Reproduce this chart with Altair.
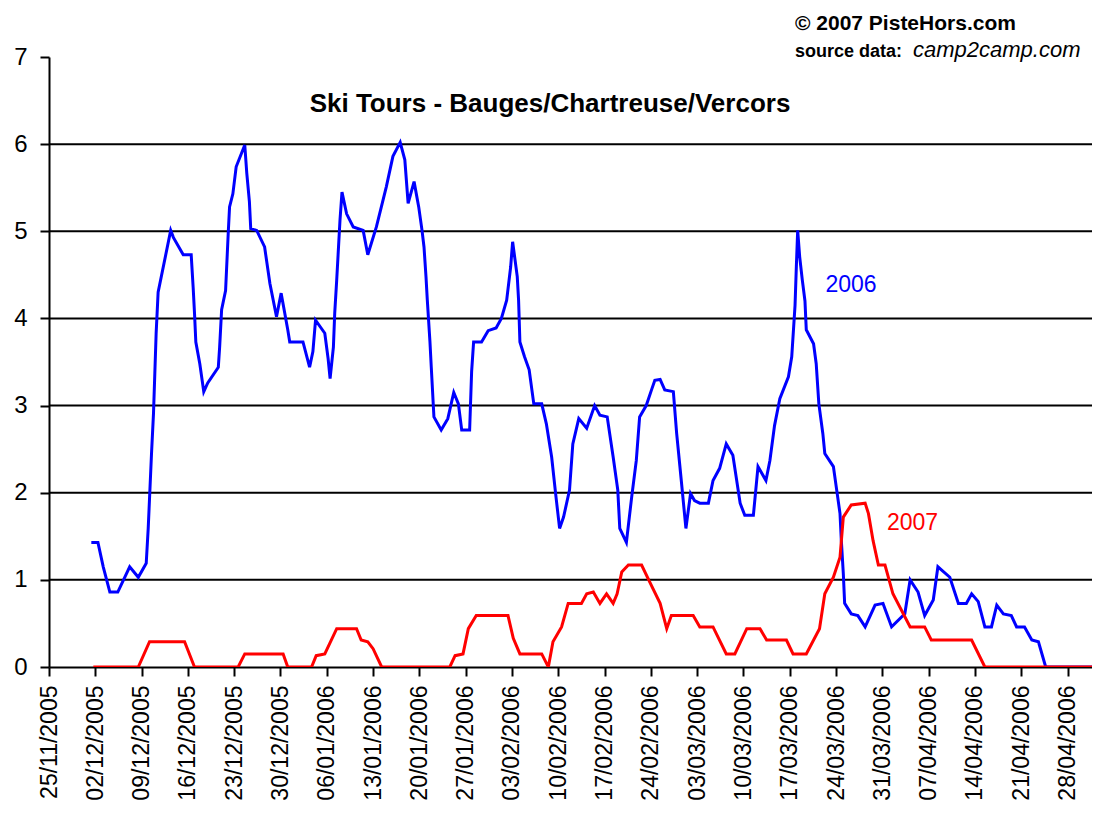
import json
import altair as alt
import pandas as pd

FONT = "Liberation Sans"

# x positions are days since 25/11/2005
tick_labels = ["25/11/2005", "02/12/2005", "09/12/2005", "16/12/2005", "23/12/2005",
               "30/12/2005", "06/01/2006", "13/01/2006", "20/01/2006", "27/01/2006",
               "03/02/2006", "10/02/2006", "17/02/2006", "24/02/2006", "03/03/2006",
               "10/03/2006", "17/03/2006", "24/03/2006", "31/03/2006", "07/04/2006",
               "14/04/2006", "21/04/2006", "28/04/2006"]
tick_days = [0, 7, 14, 21, 28, 35, 42, 49, 56, 63, 70, 77, 84, 91, 98, 105, 112,
             119, 126, 133, 140, 147, 154]
y_ticks = [0, 1, 2, 3, 4, 5, 6, 7]
grid_values = [1, 2, 3, 4, 5, 6]

blue_days = [6.4, 7.4, 8.2, 9.2, 10.4, 12.2, 13.5, 14.7, 15.0, 15.5, 15.8, 16.0, 16.2, 16.5,
             18.4, 18.8, 20.3, 21.5, 21.8, 22.0, 22.2, 22.8, 23.4, 24.0, 25.6, 25.8, 26.1,
             26.7, 27.1, 27.3, 27.8, 28.3, 29.6, 29.9, 30.3, 30.5, 31.4, 32.6, 33.4, 34.4,
             35.1, 36.1, 36.4, 38.4, 39.4, 39.9, 40.3, 41.7, 42.2, 42.5, 43.0, 43.2, 43.5,
             44.0, 44.3, 45.0, 46.0, 47.5, 48.2, 49.5, 51.0, 52.0, 53.1, 53.8, 54.3, 55.2,
             55.9, 56.4, 56.7, 57.0, 57.2, 57.6, 57.8, 58.2, 59.3, 60.3, 61.2, 61.9, 62.4,
             63.6, 63.9, 64.2, 65.4, 66.4, 67.6, 68.4, 69.2, 69.8, 70.1, 70.8, 71.0, 71.2,
             71.9, 72.6, 73.3, 74.5, 75.2, 76.0, 76.6, 77.2, 77.8, 78.7, 79.2, 80.1, 81.3,
             82.5, 83.3, 84.4, 85.3, 86.0, 86.3, 87.3, 88.1, 88.8, 89.3, 90.3, 91.1, 91.6,
             92.4, 93.1, 94.4, 94.9, 95.6, 96.3, 97.0, 97.6, 98.4, 99.7, 100.4, 101.4, 102.4,
             103.4, 104.5, 105.2, 106.5, 107.2, 108.4, 109.0, 109.7, 110.5, 111.8, 112.3,
             112.8, 113.0, 113.2, 113.5, 113.9, 114.3, 114.5, 115.6, 116.0, 116.4, 117.0,
             117.3, 118.6, 119.1, 119.6, 119.8, 120.1, 120.3, 121.3, 122.3, 123.4, 124.9,
             126.1, 127.4, 129.4, 130.2, 131.4, 132.4, 133.7, 134.4, 136.2, 137.5, 138.7,
             139.5, 140.5, 141.5, 142.5, 143.3, 144.3, 145.5, 146.3, 147.5, 148.6, 149.6,
             150.7, 158.1, 158.9]
blue_vals = [1.43, 1.43, 1.15, 0.86, 0.86, 1.15, 1.03, 1.19, 1.59, 2.45, 2.91, 3.37, 3.83, 4.30,
             5.01, 4.93, 4.73, 4.73, 4.35, 4.06, 3.73, 3.48, 3.16, 3.26, 3.44, 3.67, 4.10,
             4.32, 4.98, 5.28, 5.43, 5.74, 5.99, 5.67, 5.34, 5.03, 5.01, 4.82, 4.40, 4.02,
             4.29, 3.87, 3.73, 3.73, 3.44, 3.62, 3.98, 3.83, 3.54, 3.31, 3.67, 4.06, 4.44,
             5.13, 5.45, 5.20, 5.05, 5.01, 4.73, 5.05, 5.51, 5.86, 6.02, 5.82, 5.32, 5.57,
             5.28, 5.01, 4.82, 4.48, 4.21, 3.73, 3.44, 2.87, 2.72, 2.85, 3.15, 3.02, 2.72,
             2.72, 3.39, 3.73, 3.73, 3.86, 3.89, 4.00, 4.21, 4.59, 4.88, 4.48, 4.21, 3.73,
             3.56, 3.41, 3.02, 3.02, 2.79, 2.41, 1.99, 1.59, 1.72, 2.03, 2.56, 2.85, 2.74,
             3.00, 2.89, 2.87, 2.41, 2.03, 1.59, 1.43, 1.95, 2.37, 2.87, 3.00, 3.18, 3.29,
             3.30, 3.18, 3.16, 2.68, 2.14, 1.59, 1.99, 1.91, 1.88, 1.88, 2.14, 2.28, 2.56,
             2.43, 1.88, 1.74, 1.74, 2.30, 2.14, 2.37, 2.77, 3.08, 3.33, 3.56,
             4.15, 4.60, 5.01, 4.71, 4.44, 4.20, 3.87, 3.71, 3.48, 3.02, 2.68,
             2.45, 2.30, 2.03, 1.76, 1.45, 1.07, 0.73, 0.61, 0.59, 0.46, 0.71,
             0.73, 0.46, 0.61, 1.00, 0.86, 0.59, 0.77, 1.15, 1.03, 0.73, 0.73,
             0.84, 0.75, 0.46, 0.46, 0.71, 0.61, 0.59, 0.46, 0.46, 0.31, 0.29,
             0.00, 0.00, 0.10]

red_days = [6.7, 13.5, 15.2, 20.5, 22.0, 28.6, 29.6, 35.4, 36.1, 39.7, 40.4, 41.7, 43.5, 46.5,
            47.2, 48.2, 49.0, 50.3, 60.6, 61.4, 62.6, 63.4, 64.6, 69.4, 70.2, 71.2, 74.5,
            75.5, 76.2, 77.5, 78.5, 80.5, 81.3, 82.3, 83.3, 84.3, 85.3, 85.9, 86.6, 87.6,
            89.6, 90.8, 92.4, 93.4, 94.1, 97.4, 98.4, 100.4, 102.4, 103.7, 105.5, 107.5,
            108.5, 111.5, 112.5, 114.5, 116.5, 117.3, 118.6, 119.6, 120.1, 121.3, 123.4,
            123.9, 124.6, 125.4, 126.4, 127.6, 130.2, 132.4, 133.4, 139.5, 141.5, 158.9]
red_vals = [0.0, 0.0, 0.29, 0.29, 0.0, 0.0, 0.15, 0.15, 0.0, 0.0, 0.13, 0.15, 0.44, 0.44,
            0.31, 0.29, 0.21, 0.0, 0.0, 0.13, 0.15, 0.44, 0.59, 0.59, 0.33, 0.15, 0.15,
            0.0, 0.29, 0.46, 0.73, 0.73, 0.84, 0.86, 0.73, 0.84, 0.73, 0.84, 1.09, 1.17,
            1.17, 0.98, 0.73, 0.44, 0.59, 0.59, 0.46, 0.46, 0.15, 0.15, 0.44, 0.44,
            0.31, 0.31, 0.15, 0.15, 0.44, 0.84, 1.03, 1.26, 1.72, 1.86, 1.88,
            1.76, 1.45, 1.17, 1.17, 0.84, 0.46, 0.46, 0.31, 0.31, 0.0, 0.0]

series_names = ["2006", "2007"]
series_colors = ["#0000FF", "#FF0000"]
label_days = [117.4, 126.7]
label_vals = [4.30, 1.57]

title_text = "Ski Tours - Bauges/Chartreuse/Vercors"
credit_line1 = "© 2007 PisteHors.com"
credit_bold = "source data:"
credit_italic = "camp2camp.com"

df = pd.concat([
    pd.DataFrame({"day": blue_days, "value": blue_vals, "series": "2006"}),
    pd.DataFrame({"day": red_days, "value": red_vals, "series": "2007"}),
], ignore_index=True)
grid_df = pd.DataFrame({"v": grid_values})
label_df = pd.DataFrame({"day": label_days, "value": label_vals, "series": series_names})

W, H = 1043, 610
x_scale = alt.Scale(domain=[0, 157.7], nice=False, zero=False)
y_scale = alt.Scale(domain=[0, 7], nice=False, zero=True)
color_scale = alt.Scale(domain=series_names, range=series_colors)

label_expr = json.dumps(tick_labels) + "[round(datum.value / 7)]"

x_axis = alt.Axis(values=tick_days, labelExpr=label_expr, labelAngle=-90, labelFont=FONT,
                  labelFontSize=23, labelColor="black", labelPadding=9, tickSize=9,
                  tickColor="black", tickWidth=2, domainColor="black", domainWidth=2,
                  grid=False, title=None, labelOverlap=False, labelFlush=False,
                  labelBound=False)
y_axis = alt.Axis(values=y_ticks, labelFont=FONT, labelFontSize=24, labelColor="black",
                  labelPadding=13, tickSize=9, tickColor="black", tickWidth=2,
                  domainColor="black", domainWidth=2, grid=False, title=None,
                  labelFlush=False, labelOverlap=False)

grid = alt.Chart(grid_df).mark_rule(color="black", strokeWidth=2).encode(
    y=alt.Y("v:Q", scale=y_scale, axis=y_axis)
)

lines = alt.Chart(df).mark_line(strokeWidth=3, clip=True).encode(
    x=alt.X("day:Q", scale=x_scale, axis=x_axis),
    y=alt.Y("value:Q", scale=y_scale, axis=y_axis),
    color=alt.Color("series:N", scale=color_scale, legend=None),
)

series_labels = alt.Chart(label_df).mark_text(
    align="left", baseline="alphabetic", font=FONT, fontSize=23
).encode(
    x=alt.X("day:Q", scale=x_scale, axis=x_axis),
    y=alt.Y("value:Q", scale=y_scale, axis=y_axis),
    text="series:N",
    color=alt.Color("series:N", scale=color_scale, legend=None),
)

title = alt.Chart(pd.DataFrame({"t": [title_text]})).mark_text(
    align="center", baseline="alphabetic", font=FONT, fontSize=26, fontWeight="bold",
    color="black"
).encode(x=alt.value(501), y=alt.value(55), text="t:N")

credit1 = alt.Chart(pd.DataFrame({"t": [credit_line1]})).mark_text(
    align="left", baseline="alphabetic", font=FONT, fontSize=21, fontWeight="bold",
    color="black"
).encode(x=alt.value(746), y=alt.value(-27), text="t:N")

credit2 = alt.Chart(pd.DataFrame({"t": [credit_bold]})).mark_text(
    align="left", baseline="alphabetic", font=FONT, fontSize=18, fontWeight="bold",
    color="black"
).encode(x=alt.value(746), y=alt.value(0), text="t:N")

credit3 = alt.Chart(pd.DataFrame({"t": [credit_italic]})).mark_text(
    align="left", baseline="alphabetic", font=FONT, fontSize=22, fontStyle="italic",
    color="black"
).encode(x=alt.value(864), y=alt.value(0), text="t:N")

chart = alt.layer(grid, lines, series_labels, title, credit1, credit2, credit3).properties(
    width=W, height=H,
    padding={"left": 41, "top": 49, "right": 0, "bottom": 146},
    autosize=alt.AutoSizeParams(type="none"),
    background="white",
).configure_view(stroke="transparent")

chart.save("out.html", embed_options={"renderer": "svg", "actions": False})
